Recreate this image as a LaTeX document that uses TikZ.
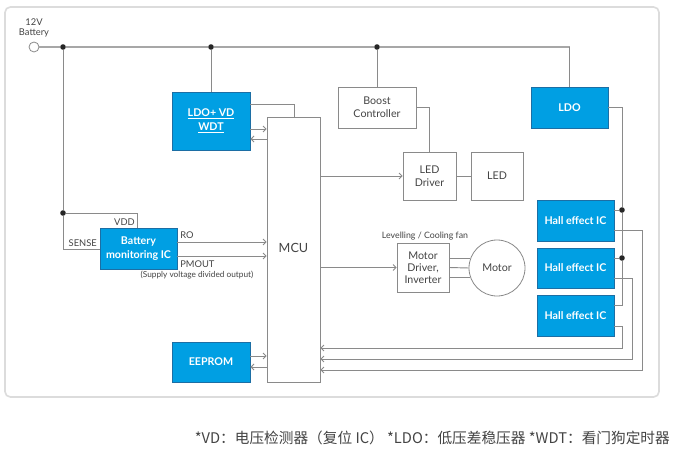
\documentclass[tikz,border=0pt]{standalone}
\usepackage{fontspec}
\setmainfont{Lato}
\newfontfamily\cjk{Noto Sans CJK SC}
\usetikzlibrary{arrows.meta,fit,calc}
\definecolor{bluefill}{HTML}{009FE3}
\definecolor{blueline}{HTML}{1C6EA4}
\definecolor{wire}{HTML}{8A8A8A}
\definecolor{framec}{HTML}{DCDCDC}
\definecolor{txt}{HTML}{444444}
\begin{document}
\begin{tikzpicture}[x=0.75pt,y=-0.75pt,
 wireline/.style={draw=wire, line width=0.7pt},
 mainline/.style={draw=wire!75, line width=1.3pt},
 sig/.style={wireline, -{Straight Barb[length=2.2pt,width=4.5pt]}},
 boxbase/.style={inner sep=0pt, align=center},
 bluebox/.style={boxbase, draw=blueline, fill=bluefill, line width=0.7pt},
 whitebox/.style={boxbase, draw=wire, fill=white, line width=0.6pt},
 bluetext/.style={text=white, font=\fontsize{8}{10}\selectfont\bfseries, inner sep=0pt, align=center},
 whitetext/.style={text=txt, font=\fontsize{8}{10}\selectfont, inner sep=0pt, align=center},
 lbl/.style={text=txt, font=\fontsize{7}{8}\selectfont, inner sep=0pt},
 dot/.style={circle, fill=black!85, inner sep=0pt, minimum size=4.2pt}]
\useasboundingbox[fill=white] (0,0) rectangle (674,456);
\draw[framec, line width=1.2pt, rounded corners=4pt, fill=white] (5,7) rectangle (659,397);

% battery
\node[circle, draw=wire, fill=white, minimum size=7.5pt, inner sep=0pt, line width=0.6pt] (bat) at (34,47) {};
\node[lbl] (v12) at (34,22) {12V};
\node[lbl] (batl) at (34,33) {Battery};
\node[dot] (j1) at (63,47) {};
\node[dot] (j2) at (211,47) {};
\node[dot] (j3) at (377,47) {};
\coordinate (ctop) at (569.5,47);

% boxes
\node[bluebox, fit={(172,92) (250,150)}] (ldovd) {};
\node[bluetext] (ldovdt) at (ldovd.center) {\underline{LDO+ VD}\\[1pt]\underline{WDT}};
\node[whitebox, fit={(338,87) (416,128)}] (boost) {};
\node[whitetext] (boostt) at (boost.center) {Boost\\Controller};
\node[bluebox, fit={(531,87) (608,128)}] (ldo) {};
\node[bluetext] (ldot) at (ldo.center) {LDO};
\node[whitebox, fit={(403,152) (456,200)}] (leddrv) {};
\node[whitetext] (leddrvt) at (leddrv.center) {LED\\Driver};
\node[whitebox, fit={(471,152) (523,200)}] (led) {};
\node[whitetext] (ledt) at (led.center) {LED};
\node[whitebox, fit={(267,117) (320,382)}] (mcu) {};
\node[whitetext, font=\fontsize{9.5}{10}\selectfont] (mcut) at (293.5,248) {MCU};
\node[bluebox, fit={(100,228) (177,269)}] (batmon) {};
\node[bluetext] (batmont) at (batmon.center) {Battery\\monitoring IC};
\node[bluebox, fit={(172,342) (250,382)}] (eeprom) {};
\node[bluetext] (eepromt) at (eeprom.center) {EEPROM};
\node[bluebox, fit={(537,200) (614,241)}] (hall1) {};
\node[bluetext] (hall1t) at (hall1.center) {Hall effect IC};
\node[bluebox, fit={(537,248) (614,288)}] (hall2) {};
\node[bluetext] (hall2t) at (hall2.center) {Hall effect IC};
\node[bluebox, fit={(537,295) (614,336)}] (hall3) {};
\node[bluetext] (hall3t) at (hall3.center) {Hall effect IC};
\node[whitebox, fit={(397,243) (449,292)}] (motdrv) {};
\node[whitetext, font=\fontsize{8}{9}\selectfont] (motdrvt) at (motdrv.center) {Motor\\Driver,\\Inverter};
\node[whitebox, circle, minimum size=42pt] (motor) at (497,268) {};
\node[whitetext] (motort) at (motor.center) {Motor};

\node[dot] (jb) at (63,213) {};
\node[dot] (hj1) at (622,210) {};
\node[dot] (hj2) at (622,258) {};

% top supply line
\draw[mainline] (bat.east) -- (j1) -- (j2) -- (j3) -- (ctop);
\draw[wireline] (ctop) -- (ldo.north);
\draw[wireline] (j2) -- (ldovd.north);
\draw[wireline] (j3) -- (boost.north);

% LDO+VD
\draw[wireline] (ldovd.east |- 0,104) -| (294,0 |- mcu.north);
\draw[sig] (ldovd.east |- 0,129) -- (mcu.west |- 0,129);
\draw[sig] (mcu.west |- 0,139) -- (ldovd.east |- 0,139);

% LED
\draw[wireline] (boost.east |- 0,107) -| (leddrv.north);
\draw[wireline] (leddrv.east) -- (led.west);
\draw[sig] (mcu.east |- leddrv.west) -- (leddrv.west);

% LDO to Hall ICs
\draw[wireline] (ldo.east |- 0,107) -| (hj1) -- (hj2) -- (622,305) -- (hall3.east |- 0,305);
\draw[wireline] (hj1) -- (hall1.east |- hj1);
\draw[wireline] (hj2) -- (hall2.east |- hj2);
\draw[sig] (hall1.east |- 0,230) -| (642,370) -- (mcu.east |- 0,370);
\draw[sig] (hall2.east |- 0,278) -| (632,359) -- (mcu.east |- 0,359);
\draw[sig] (hall3.east |- 0,326) -| (622,348) -- (mcu.east |- 0,348);

% battery monitor
\draw[wireline] (j1) -- (jb) -- (63,249) -- (batmon.west |- 0,249);
\draw[wireline] (jb) -| (137,0 |- batmon.north);
\node[lbl, anchor=south east] (vddl) at (135,226) {VDD};
\node[lbl, anchor=east] (sensel) at (97,243) {SENSE};
\draw[sig] (batmon.east |- 0,242) -- (mcu.west |- 0,242);
\draw[sig] (batmon.east |- 0,256) -- (mcu.west |- 0,256);
\node[lbl, anchor=south west] (rol) at (180,239) {RO};
\node[lbl, anchor=west] (pmoutl) at (180,264) {PMOUT};
\node[lbl, font=\fontsize{6.2}{7}\selectfont] (supl) at (197,275) {(Supply voltage divided output)};

% EEPROM
\draw[sig] (eeprom.east |- 0,356) -- (mcu.west |- 0,356);
\draw[sig] (mcu.west |- 0,367) -- (eeprom.east |- 0,367);

% motor
\draw[sig] (mcu.east |- motdrv.west) -- (motdrv.west);
\draw[wireline] (motdrv.east |- motor.161) -- (motor.161);
\draw[wireline] (motdrv.east) -- (motor.west);
\draw[wireline] (motdrv.east |- motor.199) -- (motor.199);
\node[lbl, font=\fontsize{6.6}{8}\selectfont] (fanl) at (425,236) {Levelling / Cooling fan};

% caption
\node[anchor=east, text=txt, inner sep=0pt, font=\cjk\fontsize{11}{13}\selectfont] (cap) at (670,438) {*VD：电压检测器（复位 IC） *LDO：低压差稳压器 *WDT：看门狗定时器};
\end{tikzpicture}
\end{document}
